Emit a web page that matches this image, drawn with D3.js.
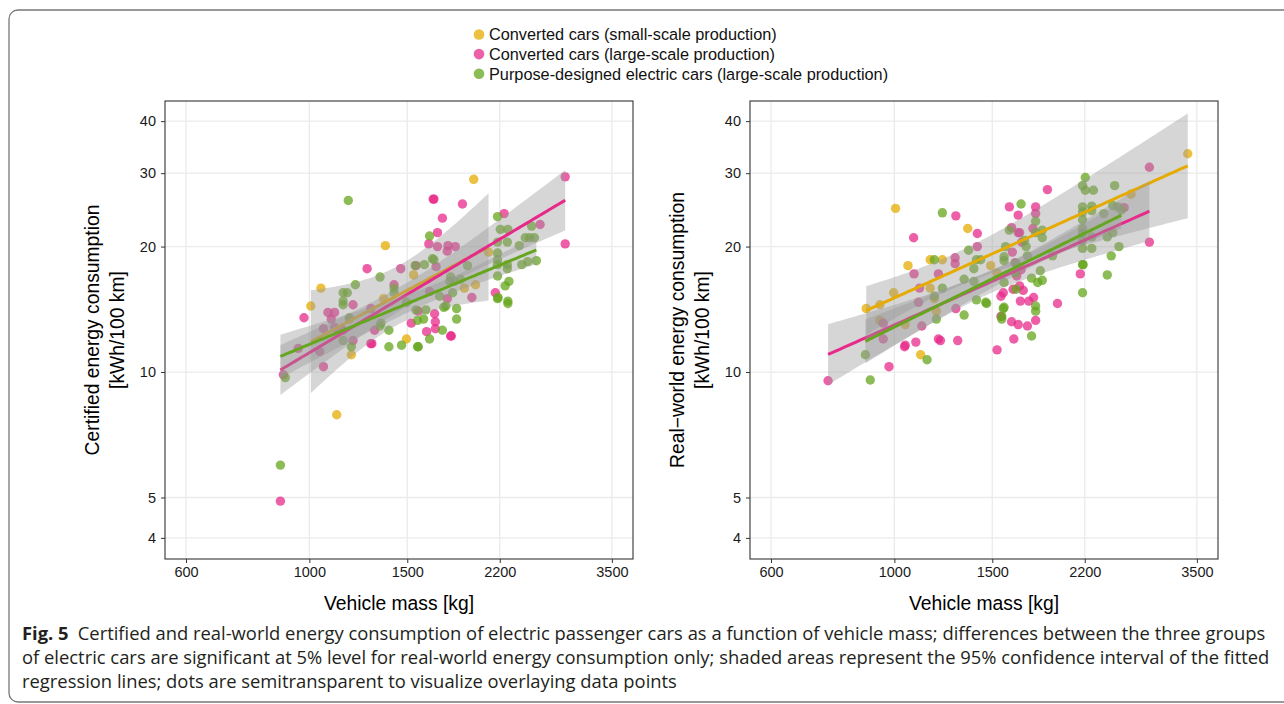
<!DOCTYPE html>
<html>
<head>
<meta charset="utf-8">
<script src="https://cdn.jsdelivr.net/npm/d3@7"></script>
<style>
  body { margin: 0; background: #fff; }
  text { font-family: "Liberation Sans", Arial, sans-serif; }
</style>
</head>
<body>
<div id="chart"></div>
<script>
// groups, in legend order
var groupNames = [
  "Converted cars (small-scale production)",
  "Converted cars (large-scale production)",
  "Purpose-designed electric cars (large-scale production)"
];

// certified consumption: [vehicle mass kg, kWh/100 km]
var certSmall = [[1975,29.0],[1370,20.1],[1049,15.9],[1006,14.4],[1180,13.4],[1360,15.0],[1540,17.1],
  [1900,15.9],[1990,16.2],[1495,12.0],[1190,11.0],[1120,7.9],[2100,19.4]];
var certLarge = [[2885,29.4],[2885,20.3],[2240,24.0],[2600,22.6],[1885,25.3],[1670,26.0],[1675,26.0],
  [1735,23.4],[1700,21.6],[1640,20.3],[1700,20.0],[1775,20.1],[1830,20.0],[1770,19.5],[1270,17.7],
  [1460,17.7],[1555,18.0],[1690,17.9],[1420,16.2],[1198,14.5],[1290,14.2],[1080,13.9],[1110,13.9],
  [1095,13.4],[978,13.5],[1060,12.7],[1198,11.9],[1290,11.7],[1295,11.7],[955,11.4],[1044,11.2],
  [1060,10.3],[898,9.85],[887,4.9],[1310,12.6],[1525,13.1],[1570,14.0],[1625,12.5],[1680,13.8],
  [1685,13.2],[1685,12.7],[1795,12.2],[1800,12.2],[1960,15.1],[2160,15.5],[1645,15.6],[1770,15.0],
  [1110,12.8],[1150,12.6]];
var certPurpose = [[1175,25.8],[887,5.98],[905,9.7],[2180,23.6],[2205,22.0],[2275,22.0],[2510,22.4],
  [2180,20.5],[2270,20.5],[2385,20.1],[2445,21.0],[2490,21.0],[2540,21.0],[2180,19.3],[2180,18.6],
  [2180,18.1],[2270,18.1],[2270,17.7],[2410,18.1],[2470,18.4],[2560,18.5],[2180,17.0],[2285,16.5],
  [2250,16.1],[2180,15.0],[2185,15.1],[2275,14.8],[2275,14.6],[1645,21.2],[1665,18.7],[1610,18.1],
  [1550,18.0],[1925,18.0],[1340,16.9],[1210,16.2],[1150,15.5],[1170,15.5],[1150,14.8],[1150,14.5],
  [1180,13.5],[1190,11.5],[1390,12.6],[1390,11.5],[1465,11.6],[1565,11.5],[1570,11.5],[1645,12.0],
  [1735,12.6],[1565,13.3],[1605,13.4],[1620,14.1],[1745,14.3],[1760,14.4],[1840,14.2],[1840,13.4],
  [1555,14.1],[1810,15.5],[1795,16.9],[1790,16.5],[1820,16.5],[1420,15.5],[1420,15.9],[1495,14.7],
  [1340,12.9],[1150,11.9],[1715,15.2],[1345,13.1],[1870,16.7],[1675,18.6]];

// real-world consumption
var realSmall = [[3370,33.4],[2665,26.7],[1005,24.7],[1355,22.1],[1160,18.6],[1220,18.6],[1058,18.0],
  [1490,18.0],[890,14.2],[942,14.5],[997,15.5],[942,13.3],[1046,13.0],[1160,15.9],[1180,15.0],
  [1190,14.0],[1115,11.0],[1530,17.3]];
var realLarge = [[760,9.53],[978,10.3],[1083,21.0],[1290,23.7],[1410,21.5],[1286,18.8],[1286,18.2],
  [1200,17.2],[1085,17.2],[1110,15.9],[1105,14.7],[955,13.1],[955,12.0],[1120,12.9],[1043,11.5],
  [1046,11.6],[1093,11.8],[1200,12.0],[1210,11.9],[1300,11.9],[1290,14.2],[1530,11.3],[1410,20.0],
  [1610,24.9],[1670,23.8],[1795,24.9],[1795,24.0],[1885,27.4],[1625,22.2],[1775,22.1],[1670,21.6],
  [1695,20.5],[1630,19.4],[1680,16.1],[1705,15.7],[1635,15.8],[1555,15.2],[1570,15.5],[1685,14.8],
  [1745,14.8],[1780,15.1],[1965,14.6],[1625,13.2],[1670,13.0],[1735,12.9],[1795,13.3],[1640,12.0],
  [2160,17.2],[2875,31.0],[2875,20.5],[2590,24.8],[1555,13.6],[1680,21.6],[1650,18.3],[1690,17.6],
  [1660,17.0]];
var realPurpose = [[905,9.57],[887,11.0],[1145,10.7],[1220,24.1],[1180,18.6],[1220,15.9],[1190,13.4],
  [1180,15.2],[1335,13.7],[1360,19.6],[1335,16.7],[1390,16.5],[1390,17.7],[1430,18.6],[1405,18.6],
  [1405,14.9],[1460,14.7],[1465,14.6],[1570,14.2],[1560,13.6],[1560,13.4],[1575,18.5],[1585,20.0],
  [1610,21.9],[1690,25.3],[1655,18.2],[1650,17.3],[1655,15.8],[1725,20.0],[1735,19.0],[1715,20.7],
  [1795,23.0],[1795,21.6],[1845,21.9],[1845,21.0],[1830,17.5],[1845,16.6],[1810,16.4],[1765,16.8],
  [1925,19.0],[1795,14.4],[1795,14.0],[1765,12.2],[2205,29.3],[2180,28.0],[2205,27.3],[2280,27.3],
  [2490,28.0],[2180,24.9],[2180,24.2],[2180,23.2],[2180,22.1],[2180,21.5],[2180,20.7],[2180,19.8],
  [2265,25.0],[2265,24.4],[2265,21.1],[2265,19.8],[2380,24.0],[2470,25.1],[2520,24.9],[2560,24.5],
  [2415,21.1],[2470,21.6],[2535,20.0],[2455,19.0],[2180,18.1],[2185,18.1],[2415,17.1],[2180,15.5],
  [1575,18.9],[1575,16.4],[1575,14.3]];

var xTicks = [600, 1000, 1500, 2200, 3500];
var yTicks = [4, 5, 10, 20, 30, 40];

var captionLines = [
  "Certified and real-world energy consumption of electric passenger cars as a function of vehicle mass; differences between the three groups",
  "of electric cars are significant at 5% level for real-world energy consumption only; shaded areas represent the 95% confidence interval of the fitted",
  "regression lines; dots are semitransparent to visualize overlaying data points"
];

var groupColor = ["#E6AB02", "#E7298A", "#66A61E"];

var width = 1284, height = 704;
var panelTop = 101, pw = 468, ph = 458;

var panels = [
  {left: 165, title: ["Certified energy consumption", "[kWh/100 km]"], data: [certSmall, certLarge, certPurpose]},
  {left: 750, title: ["Real\u2212world energy consumption", "[kWh/100 km]"], data: [realSmall, realLarge, realPurpose]}
];

var svg = d3.select("#chart").append("svg")
  .attr("width", width)
  .attr("height", height);

// outer frame
svg.append("rect")
  .attr("x", 9).attr("y", 10)
  .attr("width", 1300).attr("height", 692)
  .attr("rx", 9)
  .attr("fill", "none")
  .attr("stroke", "#777")
  .attr("stroke-width", 1.3);

var x = d3.scaleLog().domain([550, 3820]).range([0, pw]);
var y = d3.scaleLog().domain([3.56, 44.7]).range([ph, 0]);

// t quantile (0.975) by Cornish-Fisher expansion
function tQuant(df) {
  var z = 1.959964;
  return z + (Math.pow(z,3) + z) / (4*df)
    + (5*Math.pow(z,5) + 16*Math.pow(z,3) + 3*z) / (96*df*df)
    + (3*Math.pow(z,7) + 19*Math.pow(z,5) + 17*Math.pow(z,3) - 15*z) / (384*Math.pow(df,3));
}

// lm on log10-log10 scale with 95% CI, like geom_smooth(method = "lm")
function fitLm(pts) {
  var xs = pts.map(function(p) { return Math.log10(p[0]); });
  var ys = pts.map(function(p) { return Math.log10(p[1]); });
  var n = xs.length, mx = d3.mean(xs), my = d3.mean(ys);
  var sxx = d3.sum(xs, function(v) { return (v-mx)*(v-mx); });
  var sxy = d3.sum(xs, function(v, i) { return (v-mx)*(ys[i]-my); });
  var b = sxy / sxx, a = my - b*mx;
  var sse = d3.sum(xs, function(v, i) { return Math.pow(ys[i] - a - b*v, 2); });
  var s = Math.sqrt(sse / (n-2)), t = tQuant(n-2);
  var lo = d3.min(xs), hi = d3.max(xs);
  return d3.range(80).map(function(i) {
    var xv = lo + (hi-lo)*i/79;
    var se = s * Math.sqrt(1/n + (xv-mx)*(xv-mx)/sxx);
    var yh = a + b*xv;
    return {x: Math.pow(10, xv), y: Math.pow(10, yh), lo: Math.pow(10, yh - t*se), hi: Math.pow(10, yh + t*se)};
  });
}

panels.forEach(function(p, pi) {
  var g = svg.append("g").attr("transform", "translate(" + p.left + "," + panelTop + ")");

  g.append("clipPath").attr("id", "clip" + pi)
    .append("rect").attr("width", pw).attr("height", ph);

  // grid
  g.selectAll(".gx").data(xTicks).enter().append("line")
    .attr("x1", function(d) { return x(d); }).attr("x2", function(d) { return x(d); })
    .attr("y1", 0).attr("y2", ph)
    .attr("stroke", "#ebebeb").attr("stroke-width", 1.3);
  g.selectAll(".gy").data(yTicks).enter().append("line")
    .attr("y1", function(d) { return y(d); }).attr("y2", function(d) { return y(d); })
    .attr("x1", 0).attr("x2", pw)
    .attr("stroke", "#ebebeb").attr("stroke-width", 1.3);

  var plot = g.append("g").attr("clip-path", "url(#clip" + pi + ")");

  // points
  p.data.forEach(function(pts, gi) {
    plot.append("g").selectAll("circle")
      .data(pts)
      .enter().append("circle")
      .attr("cx", function(d) { return x(d[0]); })
      .attr("cy", function(d) { return y(d[1]); })
      .attr("r", 4.7)
      .attr("fill", groupColor[gi])
      .attr("fill-opacity", 0.75);
  });

  // ribbons + fitted lines, per group
  p.data.forEach(function(pts, gi) {
    var fit = fitLm(pts);
    plot.append("path")
      .datum(fit)
      .attr("d", d3.area()
        .x(function(d) { return x(d.x); })
        .y0(function(d) { return y(d.lo); })
        .y1(function(d) { return y(d.hi); }))
      .attr("fill", "#999999")
      .attr("fill-opacity", 0.4);
    plot.append("path")
      .datum(fit)
      .attr("d", d3.line()
        .x(function(d) { return x(d.x); })
        .y(function(d) { return y(d.y); }))
      .attr("fill", "none")
      .attr("stroke", groupColor[gi])
      .attr("stroke-width", 3);
  });

  // panel border
  g.append("rect")
    .attr("width", pw).attr("height", ph)
    .attr("fill", "none")
    .attr("stroke", "#333").attr("stroke-width", 1.1);

  // axes
  var xAxis = g.append("g")
    .attr("transform", "translate(0," + ph + ")")
    .call(d3.axisBottom(x).tickValues(xTicks).tickFormat(d3.format("d")).tickSizeOuter(0).tickSize(4).tickPadding(4));
  var yAxis = g.append("g")
    .call(d3.axisLeft(y).tickValues(yTicks).tickFormat(d3.format("d")).tickSizeOuter(0).tickSize(4).tickPadding(5));
  [xAxis, yAxis].forEach(function(ax) {
    ax.select(".domain").remove();
    ax.selectAll("line").attr("stroke", "#333");
    ax.selectAll("text")
      .attr("fill", "#1a1a1a")
      .style("font-size", "14.5px")
      .style("font-family", "'Liberation Sans', Arial, sans-serif");
  });

  g.append("text")
    .attr("x", pw / 2).attr("y", ph + 51)
    .attr("text-anchor", "middle")
    .style("font-size", "19.3px")
    .attr("fill", "#000")
    .text("Vehicle mass [kg]");

  var yt = g.append("text")
    .attr("transform", "translate(-66," + (ph / 2) + ") rotate(-90)")
    .attr("text-anchor", "middle")
    .style("font-size", "19.3px")
    .attr("fill", "#000");
  yt.append("tspan").attr("x", 0).attr("dy", 0).text(p.title[0]);
  yt.append("tspan").attr("x", 0).attr("dy", 25).text(p.title[1]);
});

// legend
var legend = svg.append("g").attr("transform", "translate(479,34.5)");
groupNames.forEach(function(name, i) {
  var row = legend.append("g").attr("transform", "translate(0," + (i * 19.6) + ")");
  row.append("circle").attr("r", 5.3).attr("fill", groupColor[i]).attr("fill-opacity", 0.75);
  row.append("text").attr("x", 10).attr("y", 5.8)
    .style("font-size", "16.3px").attr("fill", "#111").text(name);
});

// caption
var cap = svg.append("g");
var capTexts = captionLines.map(function(line, i) {
  var t = cap.append("text")
    .attr("x", 0).attr("y", 640 + i * 24)
    .style("font-family", "'Open Sans', 'Noto Sans', sans-serif")
    .style("font-size", "17.5px")
    .attr("fill", "#231f20");
  if (i === 0) {
    t.append("tspan").style("font-weight", "bold").text("Fig. 5");
    t.append("tspan").text("\u2002" + line);
  } else {
    t.text(line);
  }
  return t;
});
var k = 1244 / capTexts[0].node().getComputedTextLength();
cap.attr("transform", "translate(22,0) scale(" + k + ",1)");
</script>
</body>
</html>
